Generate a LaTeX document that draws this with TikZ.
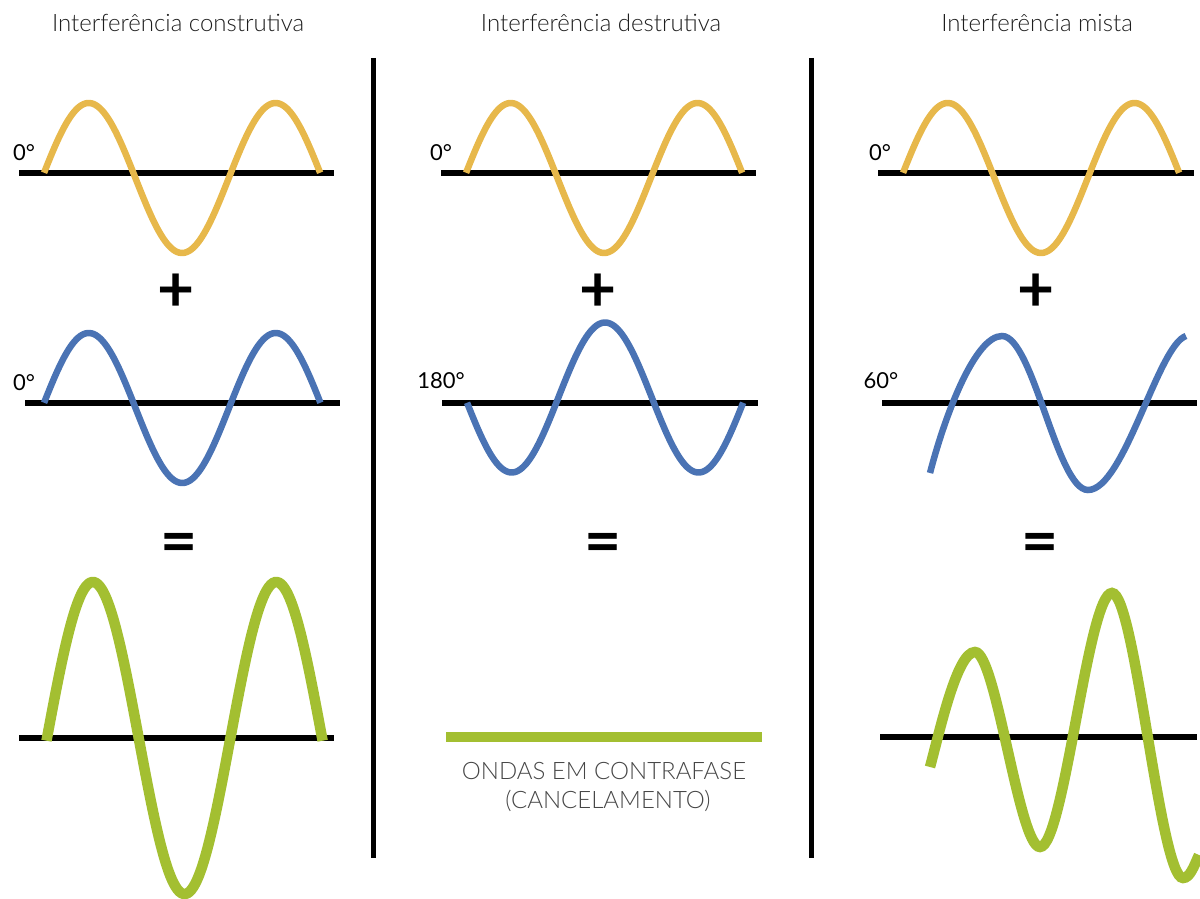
\documentclass[tikz,border=0pt]{standalone}
\usepackage{fontspec}
\setmainfont{Lato}
\newfontfamily\latolight{Lato Light}
\definecolor{wOrange}{RGB}{231,184,75}
\definecolor{wBlue}{RGB}{74,115,180}
\definecolor{wGreen}{RGB}{163,191,49}
\definecolor{titleGray}{RGB}{30,30,30}
\definecolor{noteGray}{RGB}{70,70,70}
\newcommand\wavepath[7]{\draw[#1] plot[domain=#6:#7, samples=140, smooth] ({#2+(\x/360)*#5},{#3-(#4)*sin(\x)});}
\begin{document}
\begin{tikzpicture}[x=1pt,y=-1pt,
  axisline/.style={line width=5.5pt, black},
  sepline/.style={line width=5pt, black},
  owave/.style={line width=6.5pt, wOrange},
  bwave/.style={line width=6.5pt, wBlue},
  gwave/.style={line width=10.5pt, wGreen},
  title/.style={font=\latolight\fontsize{24}{28}\selectfont, text=titleGray, inner sep=0pt, anchor=base},
  deg/.style={font=\fontsize{22}{26}\selectfont, inner sep=0pt, anchor=base},
  op/.style={font=\bfseries\fontsize{64}{70}\selectfont, inner sep=0pt},
  note/.style={font=\latolight\fontsize{24}{28}\selectfont, text=noteGray, inner sep=0pt, anchor=base}]
\useasboundingbox (0,0) rectangle (1200,899);
\clip (0,0) rectangle (1200,899);

% titles
\node[title] (t1) at (178,32) {Interferência construtiva};
\node[title] (t2) at (601,32) {Interferência destrutiva};
\node[title] (t3) at (1037,32) {Interferência mista};

% separators
\coordinate (s1a) at (373,58); \coordinate (s1b) at (373,858);
\coordinate (s2a) at (811,58); \coordinate (s2b) at (811,858);
\draw[sepline] (s1a) -- (s1b);
\draw[sepline] (s2a) -- (s2b);

% ---------- column 1 ----------
\coordinate (a1l) at (19,173); \coordinate (a1r) at (334,173);
\coordinate (b1l) at (25,403); \coordinate (b1r) at (340,403);
\coordinate (g1l) at (19,738); \coordinate (g1r) at (334,738);
\draw[axisline] (a1l) -- (a1r);
\draw[axisline] (b1l) -- (b1r);
\draw[axisline] (g1l) -- (g1r);
\wavepath{owave}{42}{178}{75}{186.8}{4}{536}
\wavepath{bwave}{42}{408}{75}{187}{4}{536}
\wavepath{gwave}{47}{738}{156}{183.4}{-1}{541}
\node[deg] (d1a) at (24,160) {0°};
\node[deg] (d1b) at (24,390) {0°};
\node[op] (p1) at (176.5,293) {+};
\node[op] (e1) at (179,548) {=};

% ---------- column 2 ----------
\coordinate (a2l) at (441,173); \coordinate (a2r) at (756,173);
\coordinate (b2l) at (442,403); \coordinate (b2r) at (758,403);
\coordinate (g2l) at (446,737); \coordinate (g2r) at (762,737);
\draw[axisline] (a2l) -- (a2r);
\draw[axisline] (b2l) -- (b2r);
\wavepath{owave}{464}{178}{75}{186.8}{4}{536}
\wavepath{bwave}{465}{397.5}{-75}{186.8}{4}{536}
\draw[gwave] (g2l) -- (g2r);
\node[deg] (d2a) at (441,160) {0°};
\node[deg] (d2b) at (441,388) {180°};
\node[op] (p2) at (598,293) {+};
\node[op] (e2) at (603,548) {=};
\node[note] (n1) at (604,779) {ONDAS EM CONTRAFASE};
\node[note] (n2) at (608,808) {(CANCELAMENTO)};

% ---------- column 3 ----------
\coordinate (a3l) at (878,173); \coordinate (a3r) at (1194,173);
\coordinate (b3l) at (882,403); \coordinate (b3r) at (1197,403);
\coordinate (g3l) at (880,737); \coordinate (g3r) at (1197,737);
\draw[axisline] (a3l) -- (a3r);
\draw[axisline] (b3l) -- (b3r);
\draw[axisline] (g3l) -- (g3r);
\wavepath{owave}{901}{178}{75}{186.8}{4}{536}
\draw[bwave] (930,473) .. controls (945,415) and (975,336) .. (1002,336)
  .. controls (1033,336) and (1057,490) .. (1088,490)
  .. controls (1124,490) and (1158,345) .. (1186,336);
\draw[gwave] (930,767) .. controls (940,730) and (957,652) .. (975,652)
  .. controls (996,652) and (1019,847) .. (1040,847)
  .. controls (1064,847) and (1088,593) .. (1112,593)
  .. controls (1135,593) and (1160,878) .. (1183,878)
  .. controls (1190,878) and (1194,866) .. (1199,855);
\node[deg] (d3a) at (880,160) {0°};
\node[deg] (d3b) at (881,388) {60°};
\node[op] (p3) at (1036,293) {+};
\node[op] (e3) at (1040,548) {=};
\end{tikzpicture}
\end{document}
